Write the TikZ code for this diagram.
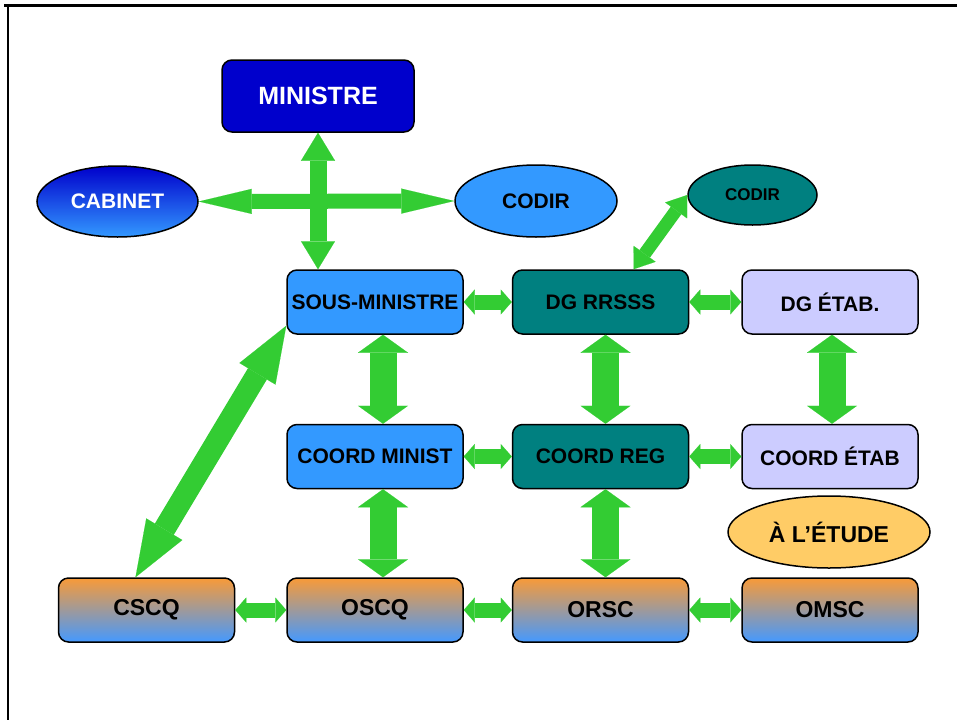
\documentclass[tikz,border=0pt]{standalone}
\usepackage{fontspec}
\setmainfont{Liberation Sans}
\usetikzlibrary{arrows.meta}
\usetikzlibrary{shapes.geometric,positioning}

\definecolor{mindark}{HTML}{0000CC}
\definecolor{minlight}{HTML}{3399FF}
\definecolor{regteal}{HTML}{008080}
\definecolor{etablav}{HTML}{CCCCFF}
\definecolor{etudejaune}{HTML}{FFCC66}
\definecolor{csorange}{HTML}{F89A38}
\definecolor{cspink}{HTML}{D69AA6}
\definecolor{csblue}{HTML}{4499FF}
\definecolor{linkgreen}{HTML}{33CC33}

\tikzset{
  box/.style={draw=black, line width=1.5pt, rounded corners=10pt, minimum width=176pt,
    minimum height=64pt, inner sep=0pt, font=\bfseries\fontsize{21}{25}\selectfont},
  oval/.style={ellipse, draw=black, line width=1.5pt, inner sep=0pt,
    font=\bfseries\fontsize{21}{25}\selectfont},
  comite/.style={box, top color=csorange, middle color=cspink, bottom color=csblue,
    font=\bfseries\fontsize{23}{27}\selectfont},
  twoway/.style n args={3}{draw=linkgreen, line width=#1,
    arrows={Triangle[length=#2,width=#3,line width=0.1pt]-Triangle[length=#2,width=#3,line width=0.1pt]}}
}

\begin{document}
\begin{tikzpicture}[x=1pt,y=-1pt]
  \useasboundingbox (0,0) rectangle (957,720);
  % cadre
  \draw[line width=3pt] (4,5) -- (957,5);
  \draw[line width=2.5pt] (8,4) -- (8,720);

  \node[box, fill=mindark, text=white, minimum width=192pt, minimum height=72pt,
    font=\bfseries\fontsize{25}{30}\selectfont] (min) at (318,96) {MINISTRE};
  \node[oval, top color=mindark, bottom color=minlight, text=white,
    minimum width=161pt, minimum height=71pt] (cab) at (117.5,201.5) {CABINET};
  \node[oval, fill=minlight, minimum width=162pt, minimum height=72pt] (codir) at (536,201) {CODIR};
  \node[oval, fill=regteal, minimum width=129pt, minimum height=60pt,
    font=\bfseries\fontsize{17}{20}\selectfont] (codirreg) at (752.5,195) {CODIR};

  \node[box, fill=minlight] (smin) at (375,302) {SOUS-MINISTRE};
  \node[box, fill=regteal] (dgr) [right=48pt of smin] {DG RRSSS};
  \node[box, fill=etablav] (dgetab) [right=52pt of dgr] {DG ÉTAB.};

  \node[box, fill=minlight] (cmin) [below=89pt of smin] {COORD MINIST};
  \node[box, fill=regteal] (creg) [below=89pt of dgr] {COORD REG};
  \node[box, fill=etablav] (cetab) [below=89pt of dgetab] {COORD ÉTAB};

  \node[comite] (oscq) [below=88pt of cmin] {OSCQ};
  \node[comite] (cscq) [left=51pt of oscq] {CSCQ};
  \node[comite] (orsc) [below=88pt of creg] {ORSC};
  \node[comite] (omsc) [below=88pt of cetab] {OMSC};

  \node[oval, fill=etudejaune, minimum width=202pt, minimum height=72pt,
    font=\bfseries\fontsize{23}{27}\selectfont] (etude) at (829,532) {À L’ÉTUDE};

  % liens
  \draw[twoway={15pt}{53pt}{25pt}] (cab.east) -- (codir.west);
  \draw[twoway={17pt}{28pt}{34pt}] (min.south) -- (min.south |- smin.north);
  \draw[twoway={13pt}{19pt}{27pt}] ([xshift=33pt]dgr.north) -- (codirreg.west);
  \draw[twoway={22pt}{56pt}{42pt}] ([yshift=9pt]smin.south west) -- ([xshift=-11pt]cscq.north);

  \draw[twoway={15pt}{11pt}{25pt}] (smin.east) -- (dgr.west);
  \draw[twoway={15pt}{11pt}{25pt}] (dgr.east) -- (dgetab.west);
  \draw[twoway={15pt}{11pt}{25pt}] (cmin.east) -- (creg.west);
  \draw[twoway={15pt}{11pt}{25pt}] (creg.east) -- (cetab.west);
  \draw[twoway={15pt}{11pt}{25pt}] (cscq.east) -- (oscq.west);
  \draw[twoway={15pt}{11pt}{25pt}] (oscq.east) -- (orsc.west);
  \draw[twoway={15pt}{11pt}{25pt}] (orsc.east) -- (omsc.west);

  \draw[twoway={27pt}{18pt}{50pt}] ([xshift=8pt]smin.south) -- ([xshift=8pt]cmin.north);
  \draw[twoway={27pt}{18pt}{50pt}] ([xshift=5pt]dgr.south) -- ([xshift=5pt]creg.north);
  \draw[twoway={27pt}{18pt}{50pt}] ([xshift=2pt]dgetab.south) -- ([xshift=2pt]cetab.north);
  \draw[twoway={27pt}{18pt}{50pt}] ([xshift=8pt]cmin.south) -- ([xshift=8pt]oscq.north);
  \draw[twoway={27pt}{18pt}{50pt}] ([xshift=5pt]creg.south) -- ([xshift=5pt]orsc.north);
\end{tikzpicture}
\end{document}
